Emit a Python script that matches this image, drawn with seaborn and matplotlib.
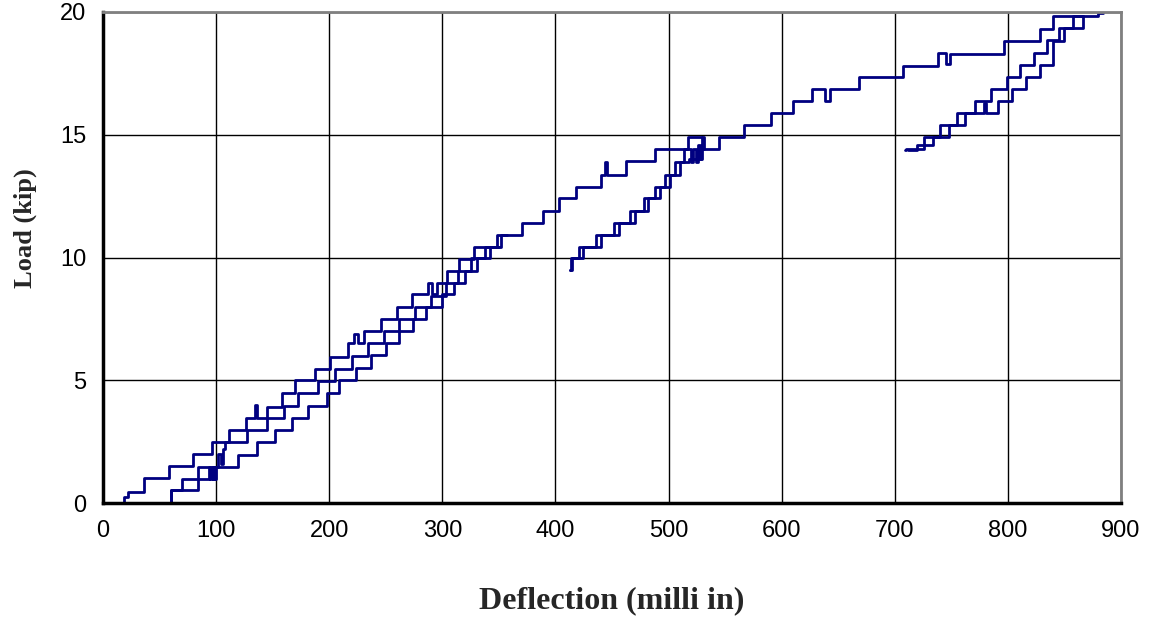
import matplotlib
matplotlib.use("Agg")
import matplotlib.pyplot as plt
import seaborn as sns
import pandas as pd

# Load-deflection traces (deflection in milli-inches, load in kips).
# Each trace is stored as level-start points of a stepped record.
trace_a_x = [17, 19, 22, 36, 58, 80, 96, 111, 126, 134, 136, 145, 158, 170, 187, 201, 217, 222, 225, 231,
             246, 260, 273, 287, 291, 295, 304, 315, 328, 348, 370, 389, 403, 418, 440, 444, 446, 462,
             488, 517, 531, 545, 567, 591, 610, 627, 638, 643, 668, 707, 738, 745, 749, 797, 828, 840, 880, 884]
trace_a_y = [0, 0.25, 0.46, 1.0, 1.5, 2.0, 2.48, 2.97, 3.45, 4.0, 3.45, 3.92, 4.5, 5.0, 5.46, 5.96, 6.5, 6.9, 6.5, 7.02,
             7.49, 8.0, 8.5, 8.97, 8.5, 8.97, 9.45, 9.94, 10.44, 10.92, 11.42, 11.9, 12.41, 12.89, 13.36, 13.9, 13.36, 13.94,
             14.42, 14.92, 14.42, 14.92, 15.4, 15.9, 16.39, 16.86, 16.39, 16.86, 17.36, 17.82, 18.35, 17.9, 18.3, 18.8, 19.3, 19.85, 19.95, 19.95]

trace_b1_x = [59, 60, 70, 94, 95, 96, 97, 98, 99, 100, 102, 104, 106, 108, 127, 145, 160, 172, 190, 205,
              220, 234, 248, 262, 276, 290, 303, 314, 325, 338, 352, 357]
trace_b1_y = [0, 0.53, 0.98, 1.48, 0.98, 1.48, 0.98, 1.48, 0.98, 1.48, 2.0, 1.6, 2.2, 2.47, 2.97, 3.45, 3.96, 4.47, 4.98, 5.46,
              5.98, 6.5, 7.0, 7.5, 7.98, 8.45, 8.96, 9.45, 9.96, 10.44, 10.92, 10.92]

trace_c1_x = [59, 60, 84, 119, 136, 152, 167, 181, 198, 209, 224, 237, 250, 262, 274, 286, 300, 310, 320, 331, 342, 350]
trace_c1_y = [0, 0.53, 1.48, 1.95, 2.47, 2.97, 3.45, 3.96, 4.47, 5.01, 5.49, 6.03, 6.5, 7.02, 7.49, 8.0, 8.5, 8.97, 9.45, 9.96, 10.44, 10.44]

trace_b2_x = [413, 414, 421, 436, 452, 466, 478, 488, 497, 506, 514, 520, 522, 524, 526, 528, 530]
trace_b2_y = [9.5, 9.98, 10.44, 10.92, 11.42, 11.9, 12.41, 12.89, 13.36, 13.9, 14.42, 13.9, 14.42, 13.9, 14.6, 14.0, 14.9]

trace_c2_x = [413, 415, 424, 440, 456, 470, 482, 492, 501, 510, 518, 525, 527, 529, 531]
trace_c2_y = [9.5, 9.98, 10.44, 10.92, 11.42, 11.9, 12.41, 12.89, 13.36, 13.9, 14.0, 14.42, 14.0, 14.42, 14.42]

trace_b3_x = [709, 710, 726, 740, 755, 771, 785, 799, 811, 823, 835, 845, 858, 866]
trace_b3_y = [14.38, 14.4, 14.92, 15.4, 15.9, 16.39, 16.86, 17.36, 17.86, 18.35, 18.86, 19.35, 19.85, 19.85]

trace_c3_x = [712, 720, 734, 748, 762, 777, 779, 781, 791, 804, 816, 828, 840, 850, 866]
trace_c3_y = [14.38, 14.6, 14.92, 15.4, 15.9, 15.9, 16.3, 15.9, 16.39, 16.86, 17.36, 17.86, 18.8, 19.35, 19.85]

x_ticks = [0, 100, 200, 300, 400, 500, 600, 700, 800, 900]
y_ticks = [0, 5, 10, 15, 20]

traces = {
    "A": (trace_a_x, trace_a_y),
    "B1": (trace_b1_x, trace_b1_y),
    "C1": (trace_c1_x, trace_c1_y),
    "B2": (trace_b2_x, trace_b2_y),
    "C2": (trace_c2_x, trace_c2_y),
    "B3": (trace_b3_x, trace_b3_y),
    "C3": (trace_c3_x, trace_c3_y),
}
frames = [pd.DataFrame({"deflection": xs, "load": ys, "trace": name})
          for name, (xs, ys) in traces.items()]
df = pd.concat(frames, ignore_index=True)

sns.set_style("white")
plt.rcParams["font.family"] = ["Liberation Sans", "DejaVu Sans"]

fig = plt.figure(figsize=(11.53, 6.21), dpi=100)
ax = fig.add_axes([103 / 1153, 1 - 503 / 621, 1018 / 1153, 491 / 621])

navy = "#000080"
sns.lineplot(data=df, x="deflection", y="load", hue="trace", units="trace",
             estimator=None, sort=False, legend=False,
             palette={name: navy for name in traces}, drawstyle="steps-post",
             linewidth=2.0, ax=ax)

ax.set_xlim(0, 900)
ax.set_ylim(0, 20)
ax.set_xticks(x_ticks)
ax.set_yticks(y_ticks)
ax.grid(True, color="black", linewidth=1.0)
ax.set_axisbelow(True)

for side in ("left", "bottom"):
    ax.spines[side].set_color("black")
    ax.spines[side].set_linewidth(2.5)
for side in ("top", "right"):
    ax.spines[side].set_color("#808080")
    ax.spines[side].set_linewidth(2.0)
    ax.spines[side].set_visible(True)

ax.tick_params(axis="both", direction="out", length=6, width=1.5, color="black",
               labelsize=17, labelcolor="black")
ax.tick_params(axis="x", pad=6)
ax.tick_params(axis="y", pad=6)

ax.set_xlabel("Deflection (milli in)", family="Liberation Serif", weight="bold", size=23)
ax.set_ylabel("Load (kip)", family="Liberation Serif", weight="bold", size=19)
ax.xaxis.set_label_coords(0.5, -0.2)
ax.xaxis.label.set_verticalalignment("center")
ax.yaxis.set_label_coords(-0.0765, 0.56)
ax.yaxis.label.set_verticalalignment("center")

fig.savefig("out.png", dpi=100)
